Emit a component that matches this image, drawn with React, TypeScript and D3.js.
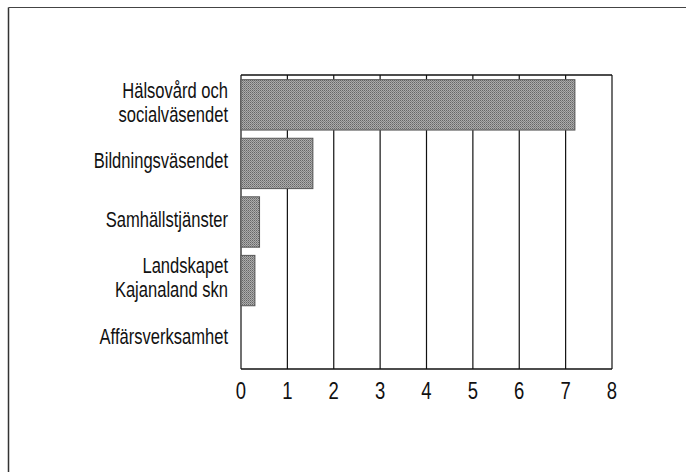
import React from 'react';
import * as d3 from 'd3';

const categories = [
  ['Hälsovård och', 'socialväsendet'],
  ['Bildningsväsendet'],
  ['Samhällstjänster'],
  ['Landskapet', 'Kajanaland skn'],
  ['Affärsverksamhet'],
];
const values = [7.2, 1.55, 0.4, 0.3, 0];
const ticks = [0, 1, 2, 3, 4, 5, 6, 7, 8];

const W = 686;
const H = 472;
const plot = { left: 241, right: 612, top: 75, bottom: 369 };
const font = '"Liberation Sans", Arial, sans-serif';
// the original uses a condensed face; squeeze a regular one
const squeeze = 0.77;

const App = () => {
  const keys = categories.map((c) => c.join(' '));

  const x = d3.scaleLinear().domain([0, 8]).range([plot.left, plot.right]);
  const y = d3
    .scaleBand()
    .domain(keys)
    .range([plot.top, plot.bottom])
    .paddingInner(0.14)
    .paddingOuter(0.08);

  return (
    <svg width={W} height={H} style={{ position: 'absolute', left: 0, top: 0, background: '#fff' }}>
      <defs>
        <pattern id="dots" width="2" height="2" patternUnits="userSpaceOnUse">
          <rect width="2" height="2" fill="#acacac" />
          <rect width="1" height="1" fill="#666" />
          <rect x="1" y="1" width="1" height="1" fill="#828282" />
        </pattern>
      </defs>

      {/* outer frame */}
      <line x1={8.5} x2={W} y1={7.5} y2={7.5} stroke="#444" strokeWidth={1.2} />
      <line x1={8.5} x2={8.5} y1={7.5} y2={H} stroke="#333" strokeWidth={1.5} />

      {/* gridlines */}
      {ticks.map((t) => (
        <line key={t} x1={x(t)} x2={x(t)} y1={plot.top} y2={plot.bottom} stroke="#111" strokeWidth={1.2} />
      ))}
      <line x1={plot.left} x2={plot.right} y1={plot.top} y2={plot.top} stroke="#111" strokeWidth={1.5} />
      <line x1={plot.left} x2={plot.right} y1={plot.bottom} y2={plot.bottom} stroke="#111" strokeWidth={1.5} />

      {/* bars */}
      {values.map((v, i) =>
        v > 0 ? (
          <rect
            key={keys[i]}
            x={x(0)}
            y={y(keys[i])}
            width={x(v) - x(0)}
            height={y.bandwidth()}
            fill="url(#dots)"
            stroke="#555"
            strokeWidth={1}
          />
        ) : null
      )}

      {/* category labels */}
      {categories.map((lines, i) => {
        const cy = (y(keys[i]) ?? 0) + y.bandwidth() / 2;
        const lh = 24;
        const start = cy - ((lines.length - 1) * lh) / 2;
        return (
          <g key={keys[i]} transform={`translate(228,0) scale(${squeeze},1)`}>
            <text textAnchor="end" fontFamily={font} fontSize={21.5} fill="#111">
              {lines.map((l, j) => (
                <tspan key={j} x={0} y={start + j * lh - 1} dominantBaseline="middle">
                  {l}
                </tspan>
              ))}
            </text>
          </g>
        );
      })}

      {/* tick labels */}
      {ticks.map((t) => (
        <g key={t} transform={`translate(${x(t)},393) scale(${squeeze},1)`}>
          <text textAnchor="middle" dominantBaseline="middle" fontFamily={font} fontSize={24} fill="#111">
            {t}
          </text>
        </g>
      ))}
    </svg>
  );
};

export default App;
